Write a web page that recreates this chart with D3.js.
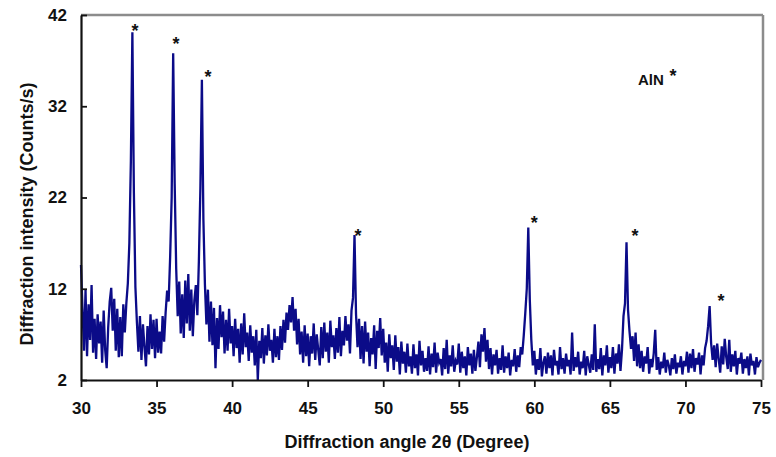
<!DOCTYPE html>
<html>
<head>
<meta charset="utf-8">
<script src="https://cdn.jsdelivr.net/npm/d3@7"></script>
<style>
  body { margin: 0; background: #fff; }
  text { font-family: "Liberation Sans", Arial, sans-serif; font-weight: bold; }
</style>
</head>
<body>
<div id="chart"></div>
<script>
// XRD scan, 30 to 75 degrees, 0.1 degree step (one row = one degree)
const startAngle = 30;
const angleStep = 0.1;
const intensity = [
  14.6, 9.8, 5.2, 11.9, 4.6, 10.3, 6.4, 12.4, 5.0, 8.7,
  4.3, 9.2, 6.0, 8.4, 3.9, 9.6, 5.3, 3.3, 7.8, 10.6,
  12.1, 7.4, 10.9, 5.2, 9.8, 4.5, 8.9, 4.6, 10.3, 7.2,
  10.4, 12.6, 17.0, 26.0, 40.1, 22.5, 12.2, 8.3, 5.1, 9.0,
  4.2, 8.1, 5.6, 3.5, 7.9, 4.8, 9.2, 5.4, 8.6, 4.4,
  8.7, 5.0, 7.3, 4.9, 9.0, 6.2, 9.4, 11.8, 10.6, 15.5,
  22.0, 37.8, 23.5, 14.2, 9.0, 12.8, 7.1, 11.4, 6.6, 12.9,
  8.2, 13.6, 7.4, 11.9, 6.8, 10.7, 12.4, 9.1, 15.0, 23.0,
  34.9, 19.6, 12.5, 8.1, 11.9, 6.2, 10.6, 5.8, 9.9, 3.3,
  8.8, 5.4, 10.2, 6.7, 9.5, 4.9, 8.6, 5.2, 9.8, 6.0,
  7.9, 4.6, 8.7, 5.5, 7.6, 3.9, 8.2, 4.8, 9.3, 5.6,
  7.2, 4.1, 8.0, 5.0, 6.8, 3.6, 7.5, 2.0, 6.3, 4.4,
  7.7, 3.8, 6.9, 4.7, 8.1, 5.2, 6.4, 3.9, 7.6, 4.5,
  6.8, 4.2, 7.9, 5.3, 8.6, 6.1, 9.4, 7.5, 10.2, 8.3,
  11.1, 7.4, 9.8, 5.9, 8.7, 4.8, 7.3, 3.9, 8.0, 4.6,
  7.1, 3.5, 6.8, 4.9, 8.2, 4.2, 7.0, 5.3, 3.6, 7.8,
  4.4, 8.3, 5.1, 7.2, 3.9, 8.5, 5.6, 6.9, 4.3, 7.7,
  5.0, 8.9, 4.6, 7.4, 5.8, 9.0, 6.3, 8.1, 4.9, 9.6,
  11.0, 17.9, 9.2, 5.6, 8.7, 4.3, 7.9, 3.8, 8.4, 5.1,
  7.2, 3.5, 6.6, 4.8, 8.0, 3.2, 7.4, 5.5, 8.8, 4.7,
  7.6, 3.9, 6.1, 2.9, 7.0, 4.4, 5.8, 3.1, 6.9, 4.0,
  5.6, 2.6, 6.2, 3.8, 5.1, 2.8, 6.0, 3.5, 4.6, 2.7,
  5.9, 3.3, 4.8, 2.5, 6.3, 3.6, 5.2, 2.9, 4.4, 3.0,
  5.7, 2.6, 4.9, 3.4, 6.1, 2.8, 5.0, 3.9, 4.3, 2.5,
  5.5, 3.2, 6.4, 2.7, 4.7, 3.5, 5.8, 2.9, 4.1, 3.7,
  6.0, 2.8, 5.1, 3.3, 4.6, 2.5, 5.6, 3.6, 4.9, 2.7,
  5.3, 3.0, 4.5, 6.2, 3.4, 7.0, 5.1, 7.7, 4.0, 6.4,
  3.2, 5.5, 2.6, 4.8, 3.6, 5.3, 2.7, 4.4, 3.1, 5.8,
  2.8, 4.6, 3.3, 5.0, 2.5, 4.2, 3.5, 5.4, 2.9, 4.7,
  3.4, 5.6, 4.8, 6.9, 9.3, 12.0, 18.7, 10.8, 6.4, 3.6,
  5.2, 2.6, 4.3, 3.1, 5.5, 2.4, 3.9, 4.6, 2.7, 5.0,
  3.3, 4.7, 2.5, 5.3, 3.6, 4.1, 2.6, 5.6, 3.2, 4.4,
  2.7, 4.9, 3.5, 4.2, 2.6, 7.2, 3.0, 4.5, 3.4, 5.1,
  2.6, 4.0, 3.3, 5.2, 2.5, 4.6, 3.7, 2.8, 4.8, 3.1,
  8.1, 2.9, 4.3, 3.2, 5.5, 2.5, 4.7, 3.6, 5.8, 2.8,
  4.5, 3.3, 5.6, 2.7, 4.9, 3.8, 5.9, 3.0, 5.3, 9.0,
  10.4, 17.1, 9.7, 7.3, 5.4, 6.8, 4.1, 7.2, 3.5, 5.9,
  3.3, 5.2, 2.9, 4.6, 3.8, 5.6, 2.7, 4.3, 3.4, 4.9,
  7.5, 3.1, 4.5, 2.6, 4.0, 3.3, 5.0, 2.8, 4.2, 3.6,
  2.5, 4.4, 3.2, 4.8, 2.7, 3.9, 3.4, 4.6, 2.6, 4.1,
  3.5, 5.1, 2.8, 4.9, 3.3, 5.4, 2.9, 4.4, 3.7, 5.0,
  2.6, 4.7, 3.6, 5.5, 6.3, 7.9, 10.1, 6.0, 4.2, 5.8,
  3.4, 6.0, 4.3, 2.8, 5.7, 3.7, 6.5, 4.5, 3.2, 6.4,
  2.9, 4.8, 3.5, 5.2, 2.6, 4.4, 3.8, 5.0, 2.7, 4.3,
  3.3, 4.6, 2.5, 4.9, 3.6, 4.1, 2.6, 4.5, 3.4, 3.9,
  4.2
];

// AlN peak markers (centre of each asterisk, in data units)
const starAngles = [33.57, 36.29, 38.40, 48.33, 60.0, 66.66, 72.36];
const starLevels = [40.7, 39.3, 35.6, 18.2, 19.6, 18.2, 11.1];

const xTicks = [30, 35, 40, 45, 50, 55, 60, 65, 70, 75];
const yTicks = [2, 12, 22, 32, 42];

const width = 776, height = 457;
const margin = { top: 15, right: 15, bottom: 77, left: 81 };
const plotW = 761 - margin.left;
const plotH = 380 - margin.top;

let points = intensity.map((v, i) => ({ x: startAngle + i * angleStep, y: v }));

let svg = d3.select("#chart").append("svg")
  .attr("width", width)
  .attr("height", height);

let g = svg.append("g")
  .attr("transform", `translate(${margin.left},${margin.top})`);

let x = d3.scaleLinear().domain([30, 75]).range([0, plotW]);
let y = d3.scaleLinear().domain([2, 42]).range([plotH, 0]);

// grey frame on top and right
g.append("line")
  .attr("x1", 0).attr("x2", plotW + 2)
  .attr("y1", 0).attr("y2", 0)
  .attr("stroke", "#8c8c8c").attr("stroke-width", 2.5);
g.append("line")
  .attr("x1", plotW + 2).attr("x2", plotW + 2)
  .attr("y1", 0).attr("y2", plotH)
  .attr("stroke", "#8c8c8c").attr("stroke-width", 2.5);

// the scan
let line = d3.line()
  .x(d => x(d.x))
  .y(d => y(d.y));

g.append("path")
  .datum(points)
  .attr("fill", "none")
  .attr("stroke", "#0b0b88")
  .attr("stroke-width", 2.3)
  .attr("stroke-linejoin", "miter")
  .attr("d", line);

// axes
let xAxis = g.append("g")
  .attr("transform", `translate(0,${plotH})`)
  .call(d3.axisBottom(x).tickValues(xTicks).tickSizeInner(7).tickSizeOuter(0).tickPadding(15));

let yAxis = g.append("g")
  .call(d3.axisLeft(y).tickValues(yTicks).tickSizeInner(-6).tickSizeOuter(0).tickPadding(14));

[xAxis, yAxis].forEach(ax => {
  ax.select(".domain").attr("stroke", "#111").attr("stroke-width", 2.2);
  ax.selectAll(".tick line").attr("stroke", "#111").attr("stroke-width", 1.8);
  ax.selectAll(".tick text")
    .attr("fill", "#111")
    .style("font-size", "17px")
    .style("font-weight", "bold")
    .style("font-family", "'Liberation Sans', Arial, sans-serif");
});

// peak asterisks
g.selectAll(".star")
  .data(starAngles)
  .enter()
  .append("text")
  .attr("class", "star")
  .attr("x", d => x(d))
  .attr("y", (d, i) => y(starLevels[i]) + 10)
  .attr("text-anchor", "middle")
  .style("font-size", "18px")
  .attr("fill", "#111")
  .text("*");

// legend label
svg.append("text")
  .attr("x", 638).attr("y", 85)
  .style("font-size", "15px")
  .attr("fill", "#111")
  .text("AlN");
svg.append("text")
  .attr("x", 673).attr("y", 82)
  .attr("text-anchor", "middle")
  .style("font-size", "18px")
  .attr("fill", "#111")
  .text("*");

// axis titles
svg.append("text")
  .attr("x", 407).attr("y", 448)
  .attr("text-anchor", "middle")
  .style("font-size", "18px")
  .attr("fill", "#111")
  .text("Diffraction angle 2θ (Degree)");

svg.append("text")
  .attr("transform", "translate(33,214) rotate(-90)")
  .attr("text-anchor", "middle")
  .style("font-size", "18px")
  .attr("fill", "#111")
  .text("Diffraction intensity (Counts/s)");
</script>
</body>
</html>
